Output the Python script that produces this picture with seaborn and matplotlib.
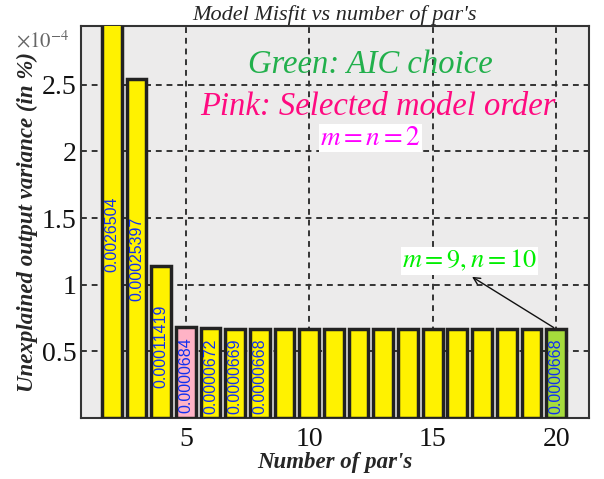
import matplotlib
matplotlib.use("Agg")
import matplotlib.pyplot as plt
import seaborn as sns
from matplotlib.ticker import FuncFormatter

# model orders (number of parameters) and the unexplained variance
orders = list(range(2, 21))
misfit = [0.0026504, 0.00025397, 0.00011419, 0.0000684, 0.0000672, 0.0000669,
          0.0000668, 0.0000668, 0.0000668, 0.0000667, 0.0000667, 0.0000667,
          0.0000667, 0.0000667, 0.0000667, 0.0000667, 0.0000667, 0.0000667,
          0.0000668]
bar_labels = ["0.0026504", "0.00025397", "0.00011419", "0.0000684", "0.0000672",
              "0.0000669", "0.0000668", "", "", "", "", "", "", "", "", "", "", "",
              "0.0000668"]
selected_order = 5
aic_order = 20
yticks = [0.5e-4, 1e-4, 1.5e-4, 2e-4, 2.5e-4]
xticks = [5, 10, 15, 20]

sns.set_theme(style="white")
plt.rcParams["font.family"] = ["Liberation Serif", "DejaVu Serif"]
plt.rcParams["mathtext.fontset"] = "stix"

palette = {o: "#FFF200" for o in orders}
palette[selected_order] = "#FFB3C6"
palette[aic_order] = "#A6DC3C"

fig, ax = plt.subplots(figsize=(6.04, 4.79), dpi=100)
fig.subplots_adjust(left=0.134, right=0.975, top=0.946, bottom=0.127)
ax.set_facecolor("#ECEBEB")

sns.barplot(x=orders, y=misfit, hue=orders, palette=palette, native_scale=True,
            width=0.8, saturation=1, edgecolor="#222222", linewidth=2.5,
            legend=False, ax=ax, zorder=3)

ymax = 2.94e-4
ax.set_xlim(0.75, 21.33)
ax.set_ylim(0, ymax)
ax.set_xticks(xticks)
ax.set_yticks(yticks)
ax.yaxis.set_major_formatter(FuncFormatter(lambda v, _: f"{v * 1e4:g}"))
ax.tick_params(axis="both", length=0, labelsize=20, colors="#111111")
ax.tick_params(axis="x", pad=6)
ax.tick_params(axis="y", pad=3)
ax.grid(True, linestyle=(0, (3, 2.5)), color="#333333", linewidth=1.4, zorder=0)
ax.set_axisbelow(True)
for s in ax.spines.values():
    s.set_visible(True)
    s.set_color("#333333")
    s.set_linewidth(1.5)

# value labels inside bars
for o, v, lab in zip(orders, misfit, bar_labels):
    if lab:
        ax.text(o, min(v, ymax) * 0.47, lab, rotation=90, ha="center", va="center",
                color="#1030F0", fontsize=11.5, family=["Liberation Sans", "DejaVu Sans"],
                zorder=4)

ax.text(-0.022, 0.946, r"$\times10^{-4}$", transform=ax.transAxes, ha="right",
        va="baseline", color="#666666", fontsize=15)

ax.set_title("Model Misfit vs number of par's", fontsize=16, style="italic", pad=4)
ax.set_xlabel("Number of par's", fontsize=16.5, style="italic", weight="bold",
              labelpad=0)
ax.set_ylabel("Unexplained output variance (in %)", fontsize=16.5, style="italic",
              weight="bold", labelpad=3)

ax.text(0.569, 0.90, "Green: AIC choice", transform=ax.transAxes, ha="center",
        va="center", color="#22B04C", fontsize=23.5, style="italic")
ax.text(0.585, 0.793, "Pink: Selected model order", transform=ax.transAxes,
        ha="center", va="center", color="#FF0A80", fontsize=23.5, style="italic")
ax.text(0.57, 0.714, r"$m=n=2$", transform=ax.transAxes, ha="center", va="center",
        color="#FF00FF", fontsize=19.5,
        bbox=dict(facecolor="white", edgecolor="none", pad=1))

ax.annotate("", xy=(16.5, 1.07e-4), xytext=(aic_order, misfit[-1]),
            arrowprops=dict(arrowstyle="->", color="#111111", lw=1.0), zorder=5)
ax.text(16.5, 1.18e-4, r"$m=9, n=10$", ha="center", va="center", color="#00EE00",
        fontsize=19, bbox=dict(facecolor="white", edgecolor="none", pad=1), zorder=5)

fig.savefig("out.png", dpi=100)
